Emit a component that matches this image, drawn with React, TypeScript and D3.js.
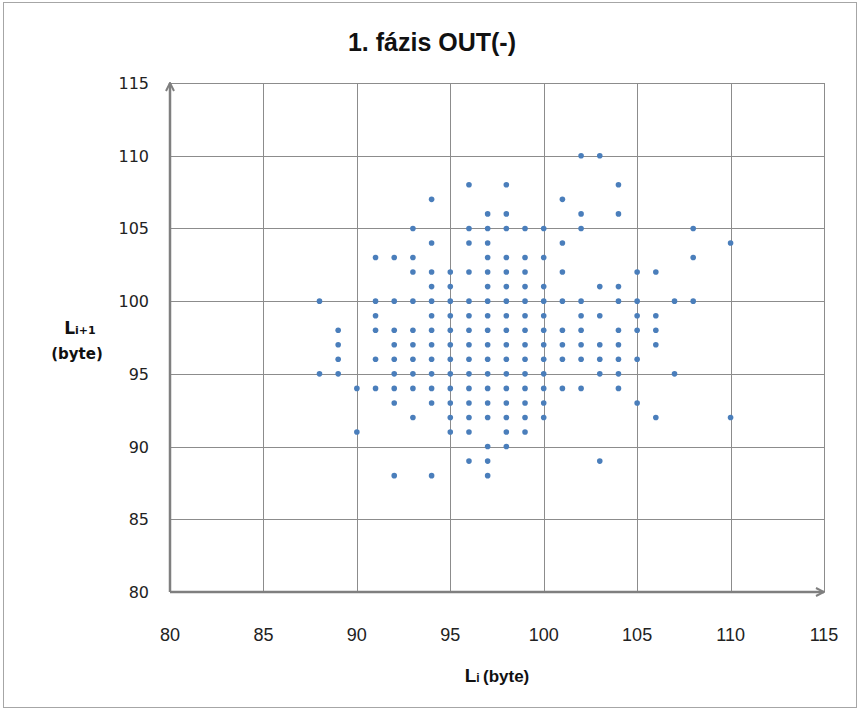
import React, { useRef, useEffect } from "react";
import * as d3 from "d3";

// L_i values (x) and the L_i+1 values (y) seen for each of them
const liValues = [88, 89, 90, 91, 92, 93, 94, 95, 96, 97, 98, 99, 100, 101, 102, 103, 104, 105, 106, 107, 108, 110];
const li1Values = [
  [100, 95],
  [98, 97, 96, 95],
  [94, 91],
  [103, 100, 99, 98, 96, 94],
  [103, 100, 98, 97, 96, 95, 94, 93, 88],
  [105, 103, 102, 100, 98, 97, 96, 95, 94, 92],
  [107, 104, 102, 101, 100, 99, 98, 97, 96, 95, 94, 93, 88],
  [102, 101, 100, 99, 98, 97, 96, 95, 94, 93, 92, 91],
  [108, 105, 104, 102, 100, 99, 98, 97, 96, 95, 94, 93, 92, 91, 89],
  [106, 105, 104, 103, 102, 101, 100, 99, 98, 97, 96, 95, 94, 93, 92, 90, 89, 88],
  [108, 106, 105, 103, 102, 101, 100, 99, 98, 97, 96, 95, 94, 93, 92, 91, 90],
  [105, 103, 102, 101, 100, 99, 98, 97, 96, 95, 94, 93, 92, 91],
  [105, 103, 101, 100, 99, 98, 97, 96, 95, 94, 93, 92],
  [107, 104, 102, 100, 98, 97, 96, 94],
  [110, 106, 105, 100, 99, 98, 97, 96, 94],
  [110, 101, 99, 97, 96, 95, 89],
  [108, 106, 101, 100, 98, 97, 96, 95, 94],
  [102, 100, 99, 98, 96, 93],
  [102, 99, 98, 97, 92],
  [100, 95],
  [105, 103, 100],
  [104, 92],
];

const xTicks = [80, 85, 90, 95, 100, 105, 110, 115];
const yTicks = [80, 85, 90, 95, 100, 105, 110, 115];

const title = "1. fázis OUT(-)";

export default function App() {
  const ref = useRef<SVGSVGElement>(null);
  const width = 862;
  const height = 714;

  useEffect(() => {
    const svg = d3.select(ref.current);
    svg.selectAll("*").remove();

    const left = 170, right = 824, top = 83, bottom = 592;

    const x = d3.scaleLinear().domain([80, 115]).range([left, right]);
    const y = d3.scaleLinear().domain([80, 115]).range([bottom, top]);

    // background + border
    svg.append("rect")
      .attr("x", 0).attr("y", 0).attr("width", width).attr("height", height)
      .attr("fill", "#fff");
    svg.append("rect")
      .attr("x", 3.5).attr("y", 2.5).attr("width", 853).attr("height", 705)
      .attr("fill", "none")
      .attr("stroke", "#a6a6a6")
      .attr("stroke-width", 1);

    const defs = svg.append("defs");
    defs.append("marker")
      .attr("id", "arrow")
      .attr("viewBox", "0 0 10 10")
      .attr("refX", 9).attr("refY", 5)
      .attr("markerWidth", 4).attr("markerHeight", 4)
      .attr("orient", "auto")
      .append("path")
      .attr("d", "M1,1 L9,5 L1,9")
      .attr("fill", "none")
      .attr("stroke", "#7f7f7f")
      .attr("stroke-width", 2);

    // grid
    const grid = svg.append("g").attr("stroke", "#8c8c8c").attr("stroke-width", 1);
    xTicks.slice(1).forEach(t => {
      grid.append("line")
        .attr("x1", Math.round(x(t)) + 0.5).attr("x2", Math.round(x(t)) + 0.5)
        .attr("y1", top).attr("y2", bottom);
    });
    yTicks.slice(1).forEach(t => {
      grid.append("line")
        .attr("x1", left).attr("x2", right)
        .attr("y1", Math.round(y(t)) + 0.5).attr("y2", Math.round(y(t)) + 0.5);
    });

    // axes with arrows
    svg.append("line")
      .attr("x1", left).attr("x2", left)
      .attr("y1", bottom).attr("y2", top)
      .attr("stroke", "#7f7f7f").attr("stroke-width", 2.5)
      .attr("marker-end", "url(#arrow)");
    svg.append("line")
      .attr("x1", left).attr("x2", right)
      .attr("y1", bottom).attr("y2", bottom)
      .attr("stroke", "#7f7f7f").attr("stroke-width", 2.5)
      .attr("marker-end", "url(#arrow)");

    // tick labels
    svg.append("g")
      .selectAll("text")
      .data(xTicks)
      .enter()
      .append("text")
      .attr("x", d => x(d))
      .attr("y", 641)
      .attr("text-anchor", "middle")
      .attr("font-family", "Liberation Sans, sans-serif")
      .attr("font-size", 18)
      .attr("fill", "#222")
      .text(d => d);

    svg.append("g")
      .selectAll("text")
      .data(yTicks)
      .enter()
      .append("text")
      .attr("x", 149)
      .attr("y", d => y(d) + 6)
      .attr("text-anchor", "end")
      .attr("font-family", "DejaVu Sans, sans-serif")
      .attr("font-size", 16)
      .attr("fill", "#222")
      .text(d => d);

    // points
    const points: [number, number][] = [];
    liValues.forEach((lx, i) => li1Values[i].forEach(ly => points.push([lx, ly])));
    svg.append("g")
      .selectAll("circle")
      .data(points)
      .enter()
      .append("circle")
      .attr("cx", d => x(d[0]))
      .attr("cy", d => y(d[1]))
      .attr("r", 2.8)
      .attr("fill", "#4a7ebb");

    // title
    svg.append("text")
      .attr("x", 432).attr("y", 51)
      .attr("text-anchor", "middle")
      .attr("font-family", "Liberation Sans, sans-serif")
      .attr("font-weight", "bold")
      .attr("font-size", 25)
      .attr("fill", "#111")
      .text(title);

    // x axis title
    const xt = svg.append("text")
      .attr("x", 497).attr("y", 682)
      .attr("text-anchor", "middle")
      .attr("font-family", "Liberation Sans, sans-serif")
      .attr("font-weight", "bold")
      .attr("fill", "#111");
    xt.append("tspan").attr("font-size", 19).text("L");
    xt.append("tspan").attr("font-size", 12).text("i ");
    xt.append("tspan").attr("font-size", 17).text("(byte)");

    // y axis title
    const yt = svg.append("text")
      .attr("x", 80).attr("y", 334)
      .attr("text-anchor", "middle")
      .attr("font-family", "DejaVu Sans, sans-serif")
      .attr("font-weight", "bold")
      .attr("fill", "#111");
    yt.append("tspan").attr("font-size", 17).text("L");
    yt.append("tspan").attr("font-size", 11).text("i+1");
    svg.append("text")
      .attr("x", 77).attr("y", 359)
      .attr("text-anchor", "middle")
      .attr("font-family", "DejaVu Sans, sans-serif")
      .attr("font-weight", "bold")
      .attr("font-size", 15)
      .attr("fill", "#111")
      .text("(byte)");
  }, []);

  return (
    <svg
      ref={ref}
      width={width}
      height={height}
      style={{ position: "absolute", left: 0, top: 0 }}
    />
  );
}
